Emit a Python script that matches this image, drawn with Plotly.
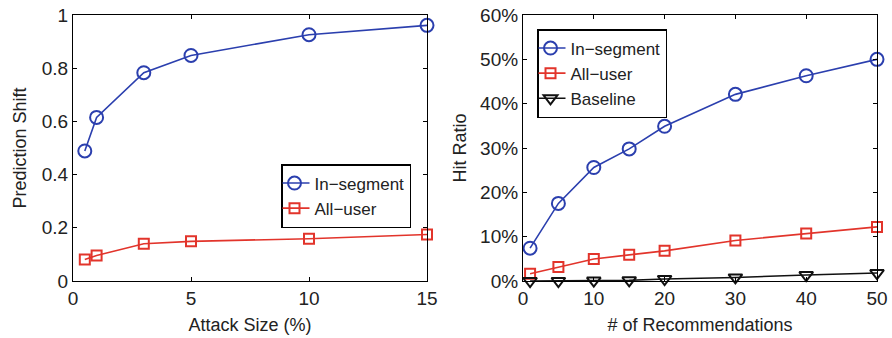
import plotly.graph_objects as go

# Left panel data
attack_size = [0.5, 1, 3, 5, 10, 15]
shift_in_segment = [0.489, 0.615, 0.783, 0.848, 0.926, 0.961]
shift_all_user = [0.081, 0.096, 0.140, 0.149, 0.159, 0.175]

# Right panel data
num_recs = [1, 5, 10, 15, 20, 30, 40, 50]
hit_in_segment = [0.074, 0.175, 0.256, 0.298, 0.349, 0.421, 0.463, 0.500]
hit_all_user = [0.0165, 0.0315, 0.0495, 0.059, 0.068, 0.0915, 0.107, 0.122]
hit_baseline = [0.0, 0.0, 0.001, 0.0015, 0.0045, 0.008, 0.0135, 0.018]

left_yticks = [0, 0.2, 0.4, 0.6, 0.8, 1]
left_yticklabels = ["0", "0.2", "0.4", "0.6", "0.8", "1"]
left_xticks = [0, 5, 10, 15]
right_yticks = [0, 0.1, 0.2, 0.3, 0.4, 0.5, 0.6]
right_yticklabels = ["0%", "10%", "20%", "30%", "40%", "50%", "60%"]
right_xticks = [0, 10, 20, 30, 40, 50]

BLUE = "#2b3fae"
RED = "#e2342b"
BLACK = "#111111"
FONT = "Liberation Sans"
TXT = "#222222"

W, H = 892, 338

def px_x(p):
    return p / W

def px_y(p):
    return 1 - p / H

fig = go.Figure()

def add(x, y, name, color, symbol, size, xa, ya, legend):
    fig.add_trace(go.Scatter(
        x=x, y=y, name=name, mode="lines+markers",
        line=dict(color=color, width=1.6),
        marker=dict(symbol=symbol, size=size, color=color,
                    line=dict(color=color, width=2)),
        xaxis=xa, yaxis=ya, legend=legend, cliponaxis=False,
    ))

add(attack_size, shift_in_segment, "In\u2212segment", BLUE, "circle-open", 13, "x", "y", "legend")
add(attack_size, shift_all_user, "All\u2212user", RED, "square-open", 10, "x", "y", "legend")
add(num_recs, hit_in_segment, "In\u2212segment", BLUE, "circle-open", 13, "x2", "y2", "legend2")
add(num_recs, hit_all_user, "All\u2212user", RED, "square-open", 10, "x2", "y2", "legend2")
add(num_recs, hit_baseline, "Baseline", BLACK, "triangle-down-open", 12, "x2", "y2", "legend2")

axis_common = dict(
    showline=True, linecolor="black", linewidth=1.2, mirror="ticks",
    ticks="inside", ticklen=4, tickcolor="black", showgrid=False,
    zeroline=False, automargin=False,
    tickfont=dict(family=FONT, size=19, color=TXT),
)
title_font = dict(family=FONT, size=18, color=TXT)
legend_common = dict(
    xanchor="left", yanchor="top", xref="paper", yref="paper",
    bgcolor="white", bordercolor="black", borderwidth=1.5,
    font=dict(family=FONT, size=17, color=TXT),
    itemwidth=30, tracegroupgap=0, indentation=-8,
)

ydom = [px_y(281), px_y(15)]

fig.update_layout(
    width=W, height=H,
    margin=dict(l=0, r=0, t=0, b=0, autoexpand=False),
    paper_bgcolor="white", plot_bgcolor="white",
    font=dict(family=FONT, size=18, color=TXT),
    xaxis=dict(domain=[px_x(73), px_x(427)], range=[0, 15], tickvals=left_xticks,
               anchor="y", title=dict(text="Attack Size (%)", standoff=10,
                                      font=title_font), **axis_common),
    yaxis=dict(domain=ydom, range=[0, 1], tickvals=left_yticks,
               ticktext=left_yticklabels, anchor="x",
               title=dict(text="Prediction Shift", standoff=10,
                          font=title_font), **axis_common),
    xaxis2=dict(domain=[px_x(523), px_x(877)], range=[0, 50], tickvals=right_xticks,
                anchor="y2", title=dict(text="# of Recommendations", standoff=10,
                                        font=title_font), **axis_common),
    yaxis2=dict(domain=ydom, range=[0, 0.6], tickvals=right_yticks,
                ticktext=right_yticklabels, anchor="x2",
                title=dict(text="Hit Ratio", standoff=8,
                           font=title_font), **axis_common),
    legend=dict(x=px_x(281), y=px_y(164), **legend_common),
    legend2=dict(x=px_x(537), y=px_y(29), **legend_common),
)

fig.write_html(
    "out.html",
    config={"displayModeBar": False},
    post_script="document.body.style.margin='0';document.body.style.overflow='hidden';",
)
